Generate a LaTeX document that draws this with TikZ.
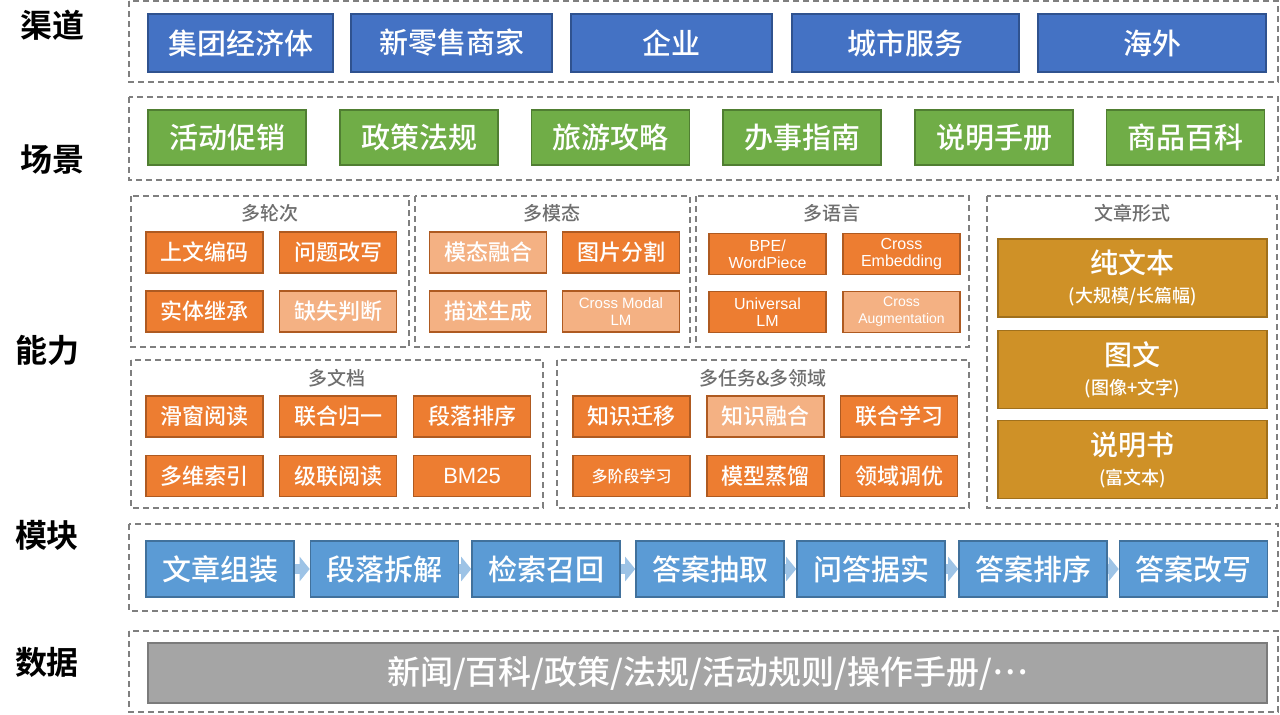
\documentclass[tikz,border=0pt]{standalone}
\usepackage{fontspec}
\setmainfont{Noto Sans CJK SC}[UprightFont=* Medium, BoldFont=* Bold]
\newfontfamily\latin{Liberation Sans}
\usetikzlibrary{arrows.meta}
\definecolor{chanF}{HTML}{4472C4}\definecolor{chanD}{HTML}{2F528F}
\definecolor{scenF}{HTML}{70AD47}\definecolor{scenD}{HTML}{507E32}
\definecolor{capF}{HTML}{ED7D31}\definecolor{capD}{HTML}{AE5A21}
\definecolor{capL}{HTML}{F4B183}
\definecolor{formF}{HTML}{CF9127}\definecolor{formD}{HTML}{A0701C}
\definecolor{modF}{HTML}{5B9BD5}\definecolor{modD}{HTML}{41719C}
\definecolor{arrC}{HTML}{9DC3E6}
\definecolor{dataF}{HTML}{A5A5A5}\definecolor{dataD}{HTML}{7B7B7B}
\definecolor{frameC}{HTML}{7F7F7F}\definecolor{titleC}{HTML}{6E6E6E}
\newcommand{\subsz}{\fontsize{9}{10}\selectfont}

\begin{document}
\begin{tikzpicture}[x=0.5pt, y=-0.5pt,
	   fr/.style={draw=frameC, dash pattern=on 3pt off 2pt, line width=0.8pt},
	   b/.style={draw, line width=0.8pt, inner sep=0pt, align=center, text=white},
	   ch/.style={b, draw=chanD, fill=chanF, minimum height=29pt, font=\fontsize{14.5}{16}\selectfont},
	   sc/.style={b, draw=scenD, fill=scenF, minimum width=79pt, minimum height=27.5pt, font=\fontsize{14.5}{16}\selectfont},
	   ab/.style={b, draw=capD, fill=capF, minimum width=58.5pt, minimum height=20.5pt, font=\fontsize{11}{13}\selectfont},
	   al/.style={ab, fill=capL},
	   en/.style={font=\latin\fontsize{8}{8.5}\selectfont},
	   tt/.style={text=titleC, font=\fontsize{9.5}{11}\selectfont},
	   fm/.style={b, draw=formD, fill=formF, minimum width=134.5pt, minimum height=39pt, font=\fontsize{14}{15.5}\selectfont},
	   md/.style={b, draw=modD, fill=modF, minimum width=74pt, minimum height=28pt, font=\fontsize{14.5}{16}\selectfont},
	   lb/.style={font=\fontsize{16}{18}\selectfont\bfseries},
	   go/.style={draw=arrC, line width=5pt, -{Triangle[length=5pt, width=12pt]}}]
	  \useasboundingbox (0,0) rectangle (1280,714);
	  % row labels
	  \node[lb] (lch) at (52,25) {渠道};
	  \node[lb] (lsc) at (52,160) {场景};
	  \node[lb] (lab) at (48,350) {能力};
	  \node[lb] (lmd) at (47,535) {模块};
	  \node[lb] (lda) at (47,662) {数据};
	  % frames
	  \draw[fr] (129,1) rectangle (1278,82);
	  \draw[fr] (129,97) rectangle (1278,180);
	  \draw[fr] (131,196) rectangle (409,347);
	  \draw[fr] (415,196) rectangle (690,347);
	  \draw[fr] (696,196) rectangle (969,347);
	  \draw[fr] (987,196) rectangle (1277,508);
	  \draw[fr] (131,360) rectangle (543,508);
	  \draw[fr] (557,360) rectangle (969,508);
	  \draw[fr] (129,524) rectangle (1278,611);
	  \draw[fr] (129,631) rectangle (1278,712);
	  % channels
	  \node[ch, minimum width=92.5pt] (c1) at (240.5,43) {集团经济体};
	  \node[ch, minimum width=100.5pt] (c2) at (451.5,43) {新零售商家};
	  \node[ch, minimum width=100.5pt] (c3) at (671.5,43) {企业};
	  \node[ch, minimum width=113.5pt] (c4) at (905.5,43) {城市服务};
	  \node[ch, minimum width=114pt] (c5) at (1152,43) {海外};
	  % scenes
	  \node[sc] (s1) at (227,137.5) {活动促销};
	  \node[sc] (s2) at (419,137.5) {政策法规};
	  \node[sc] (s3) at (610.5,137.5) {旅游攻略};
	  \node[sc] (s4) at (802,137.5) {办事指南};
	  \node[sc] (s5) at (994,137.5) {说明手册};
	  \node[sc] (s6) at (1185.5,137.5) {商品百科};
	  % abilities
	  \node[tt] (t1) at (270,213) {多轮次};
	  \node[ab] (r1) at (204.5,252.5) {上文编码};
	  \node[ab] (r2) at (338,252.5) {问题改写};
	  \node[ab] (r3) at (204.5,311.5) {实体继承};
	  \node[al] (r4) at (338,311.5) {缺失判断};
	  \node[tt] (t2) at (552,213) {多模态};
	  \node[al] (v1) at (488,252.5) {模态融合};
	  \node[ab] (v2) at (621,252.5) {图片分割};
	  \node[al] (v3) at (488,311.5) {描述生成};
	  \node[al, en, font=\latin\fontsize{7.5}{8.5}\selectfont] (v4) at (621,311.5) {Cross Modal\\LM};
	  \node[tt] (t3) at (832,213) {多语言};
	  \node[ab, en] (g1) at (767.5,254) {BPE/\\WordPiece};
	  \node[ab, en] (g2) at (901.5,254) {Cross\\Embedding};
	  \node[ab, en] (g3) at (767.5,312) {Universal\\LM};
	  \node[al, en, font=\latin\fontsize{7}{8.5}\selectfont] (g4) at (901.5,312) {Cross\\Augmentation};
	  \node[tt] (t4) at (1132,213) {文章形式};
	  \node[fm] (f1) at (1132.5,278) {纯文本\\[-1pt]{\subsz (大规模/长篇幅)}};
	  \node[fm] (f2) at (1132.5,369.5) {图文\\[-1pt]{\subsz (图像+文字)}};
	  \node[fm] (f3) at (1132.5,459.5) {说明书\\[-1pt]{\subsz (富文本)}};
	  \node[tt] (t5) at (337,378) {多文档};
	  \node[ab] (d1) at (204.5,416.5) {滑窗阅读};
	  \node[ab] (d2) at (338,416.5) {联合归一};
	  \node[ab] (d3) at (472,416.5) {段落排序};
	  \node[ab] (d4) at (204.5,476) {多维索引};
	  \node[ab] (d5) at (338,476) {级联阅读};
	  \node[ab, font=\latin\fontsize{11}{13}\selectfont] (d6) at (472,476) {BM25};
	  \node[tt] (t6) at (763,378) {多任务\&多领域};
	  \node[ab] (k1) at (631.5,416.5) {知识迁移};
	  \node[al] (k2) at (765.5,416.5) {知识融合};
	  \node[ab] (k3) at (899,416.5) {联合学习};
	  \node[ab, font=\fontsize{8}{10}\selectfont] (k4) at (631.5,476) {多阶段学习};
	  \node[ab] (k5) at (765.5,476) {模型蒸馏};
	  \node[ab] (k6) at (899,476) {领域调优};
	  % modules
	  \node[md] (m1) at (220,569) {文章组装};
	  \node[md] (m2) at (384.5,569) {段落拆解};
	  \node[md] (m3) at (546,569) {检索召回};
	  \node[md] (m4) at (710,569) {答案抽取};
	  \node[md] (m5) at (871,569) {问答据实};
	  \node[md] (m6) at (1033,569) {答案排序};
	  \node[md] (m7) at (1193.5,569) {答案改写};
	  \draw[go] (m1) -- (m2);
	  \draw[go] (m2) -- (m3);
	  \draw[go] (m3) -- (m4);
	  \draw[go] (m4) -- (m5);
	  \draw[go] (m5) -- (m6);
	  \draw[go] (m6) -- (m7);
	  % data
	  \node[b, draw=dataD, fill=dataF, minimum width=559.5pt, minimum height=30pt,
	        font=\fontsize{16.5}{18}\selectfont] (db) at (707.5,673) {新闻/百科/政策/法规/活动规则/操作手册/\raisebox{0.3em}{…}};
	\end{tikzpicture}
\end{document}
